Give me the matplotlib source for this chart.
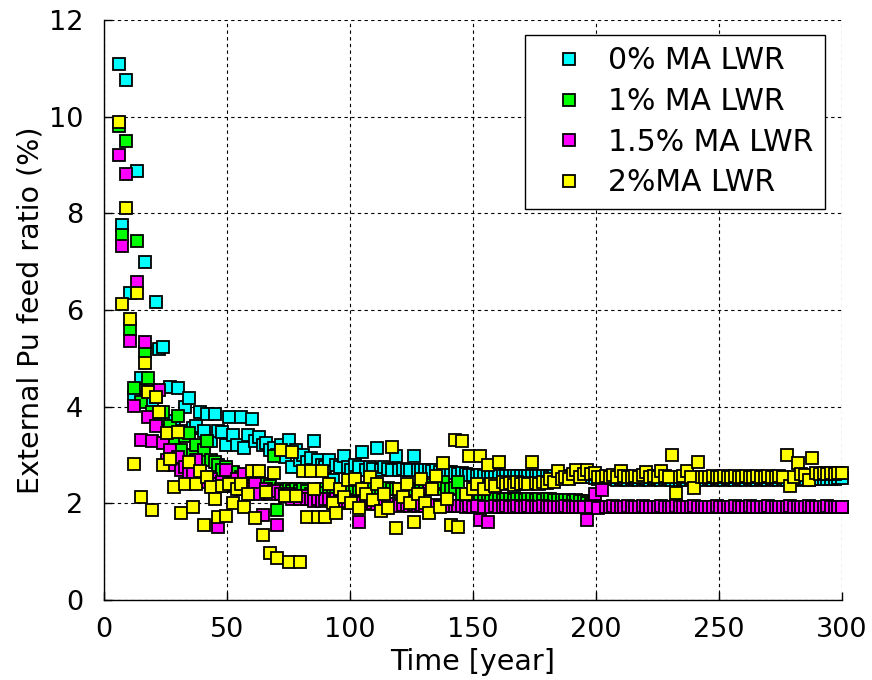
import numpy as np
import matplotlib
matplotlib.use("Agg")
import matplotlib.pyplot as plt

# time grid (years)
time = np.arange(6, 301, 1.5)

labels = ["0% MA LWR", "1% MA LWR", "1.5% MA LWR", "2%MA LWR"]
colors = ["#00FFFF", "#00FF00", "#FF00FF", "#FFFF00"]

ma0 = [
    11.1, 7.75, 10.75, 6.35, 4.2, 8.88, 4.6, 7.0, 4.3, 4.1,
    6.17, 5.2, 5.24, 3.7, 4.41, 3.6, 4.38, 3.5, 4.0, 4.17,
    3.55, 3.6, 3.9, 3.49, 3.85, 3.3, 3.85, 3.49, 3.48, 3.2,
    3.79, 3.41, 3.2, 3.78, 3.14, 3.41, 3.74, 3.3, 3.38, 3.2,
    3.24, 3.1, 3.15, 3.0, 3.2, 2.95, 3.31, 2.76, 3.1, 2.9,
    3.0, 2.85, 2.93, 3.28, 2.9, 2.8, 2.75, 2.9, 2.48, 2.8,
    2.75, 2.97, 2.75, 2.7, 2.8, 2.75, 3.07, 2.7, 2.75, 2.72,
    3.14, 2.7, 2.75, 2.72, 2.7, 2.97, 2.7, 2.72, 2.7, 2.7,
    2.97, 2.68, 2.7, 2.68, 2.7, 2.66, 2.68, 2.65, 2.66, 2.65,
    2.64, 2.62, 2.6, 2.62, 2.6, 2.58, 2.58, 2.57, 2.58, 2.57,
    2.57, 2.57, 2.58, 2.57, 2.57, 2.56, 2.57, 2.57, 2.56, 2.57,
    2.56, 2.57, 2.56, 2.56, 2.57, 2.56, 2.56, 2.55, 2.56, 2.56,
    2.55, 2.56, 2.55, 2.55, 2.56, 2.55, 2.54, 2.55, 2.54, 2.52,
    2.5, 2.5, 2.51, 2.5, 2.5, 2.49, 2.5, 2.5, 2.49, 2.5,
    2.5, 2.49, 2.5, 2.5, 2.49, 2.5, 2.5, 2.49, 2.5, 2.5,
    2.49, 2.48, 2.49, 2.5, 2.49, 2.5, 2.49, 2.5, 2.5, 2.49,
    2.5, 2.49, 2.5, 2.5, 2.49, 2.5, 2.5, 2.49, 2.5, 2.5,
    2.49, 2.5, 2.5, 2.49, 2.5, 2.5, 2.49, 2.5, 2.5, 2.49,
    2.5, 2.49, 2.5, 2.5, 2.49, 2.5, 2.5, 2.49, 2.5, 2.5,
    2.5, 2.51, 2.5, 2.51, 2.5, 2.52, 2.52,
]

ma1 = [
    9.8, 7.55, 9.5, 5.6, 4.38, 7.43, 4.1, 5.14, 4.59, 3.9,
    4.2, 3.7, 3.9, 3.5, 3.6, 3.3, 3.81, 3.1, 3.4, 3.46,
    3.0, 3.2, 2.9, 3.1, 3.28, 2.9, 2.85, 2.8, 2.7, 2.75,
    2.6, 2.65, 2.5, 2.55, 2.45, 2.5, 2.4, 2.45, 2.35, 2.4,
    2.3, 2.35, 2.97, 1.86, 2.3, 2.25, 2.3, 2.25, 2.3, 2.25,
    2.3, 2.25, 2.2, 2.28, 2.25, 2.3, 2.22, 2.3, 2.25, 2.28,
    2.3, 2.25, 2.3, 2.28, 2.32, 2.3, 2.28, 2.32, 2.3, 2.3,
    2.32, 2.3, 2.3, 2.32, 2.3, 2.3, 2.28, 2.3, 2.3, 2.28,
    2.3, 2.28, 2.3, 2.35, 2.3, 2.38, 2.3, 2.4, 2.45, 2.3,
    2.3, 2.32, 2.45, 2.2, 2.1, 2.08, 2.08, 2.07, 2.08, 2.08,
    2.08, 2.07, 2.08, 2.08, 2.07, 2.08, 2.08, 2.07, 2.08, 2.08,
    2.07, 2.08, 2.08, 2.07, 2.08, 2.07, 2.08, 2.08, 2.07, 2.06,
    2.07, 2.06, 2.06, 2.05, 2.06, 2.05, 2.04, 2.0, 1.96, 1.94,
    1.93, 1.93, 1.93, 1.93, 1.93, 1.93, 1.93, 1.93, 1.93, 1.93,
    1.93, 1.93, 1.93, 1.93, 1.93, 1.93, 1.93, 1.93, 1.93, 1.93,
    1.93, 1.93, 1.93, 1.93, 1.93, 1.93, 1.93, 1.93, 1.93, 1.93,
    1.93, 1.93, 1.93, 1.93, 1.93, 1.93, 1.93, 1.93, 1.93, 1.93,
    1.93, 1.93, 1.93, 1.93, 1.93, 1.93, 1.93, 1.93, 1.93, 1.93,
    1.93, 1.93, 1.93, 1.93, 1.93, 1.93, 1.93, 1.93, 1.93, 1.93,
    1.93, 1.93, 1.93, 1.93, 1.93, 1.93, 1.93,
]

ma15 = [
    9.2, 7.33, 8.81, 5.36, 4.01, 6.58, 3.31, 5.34, 3.79, 3.28,
    3.6, 4.34, 3.25, 2.9, 3.1, 2.8, 2.95, 2.7, 2.75, 2.6,
    2.65, 2.9, 2.5, 2.55, 2.45, 2.5, 2.4, 1.52, 2.45, 2.69,
    2.35, 2.4, 2.5, 2.3, 2.6, 2.35, 2.3, 2.4, 2.2, 1.76,
    2.3, 2.2, 2.25, 1.55, 2.2, 2.15, 2.2, 2.1, 2.15, 2.1,
    2.15, 2.1, 2.1, 2.05, 2.1, 2.05, 2.1, 2.08, 2.05, 2.1,
    2.05, 2.0, 2.05, 2.0, 2.02, 1.62, 2.0, 2.02, 1.98, 2.0,
    1.98, 2.0, 1.97, 1.98, 1.96, 1.98, 1.95, 1.97, 1.96, 1.95,
    1.96, 1.95, 1.97, 1.95, 2.31, 1.95, 1.96, 1.94, 1.95, 1.94,
    1.95, 1.94, 1.95, 1.94, 1.93, 1.94, 1.93, 1.94, 1.66, 1.93,
    1.62, 1.93, 1.94, 1.93, 1.93, 1.94, 1.93, 1.93, 1.94, 1.93,
    1.93, 1.94, 1.93, 1.93, 1.93, 1.94, 1.93, 1.93, 1.93, 1.93,
    1.93, 1.94, 1.93, 1.93, 1.93, 1.93, 1.93, 1.66, 1.93, 2.2,
    1.9, 2.28, 1.93, 1.93, 1.94, 1.93, 1.93, 1.93, 1.94, 1.93,
    1.93, 1.93, 1.94, 1.93, 1.93, 1.93, 1.93, 1.94, 1.93, 1.93,
    1.93, 1.94, 1.93, 1.93, 1.93, 1.93, 1.94, 1.93, 1.93, 1.93,
    1.93, 1.93, 1.94, 1.93, 1.93, 1.93, 1.93, 1.94, 1.93, 1.93,
    1.93, 1.94, 1.93, 1.93, 1.93, 1.93, 1.94, 1.93, 1.93, 1.93,
    1.93, 1.93, 1.94, 1.93, 1.93, 1.93, 1.93, 1.94, 1.93, 1.93,
    1.93, 1.93, 1.94, 1.93, 1.93, 1.93, 1.93,
]

ma2 = [
    9.9, 6.12, 8.11, 5.81, 2.81, 6.36, 2.14, 4.9, 4.31, 1.86,
    4.19, 3.88, 2.79, 3.45, 2.91, 2.33, 3.48, 1.79, 2.4, 2.86,
    1.93, 2.41, 2.66, 1.55, 2.54, 2.33, 2.1, 1.72, 2.36, 1.74,
    2.41, 2.0, 2.3, 2.41, 1.93, 2.2, 2.66, 1.69, 2.66, 1.34,
    2.24, 0.97, 2.63, 0.86, 3.1, 2.15, 0.79, 3.07, 2.15, 0.79,
    2.66, 1.72, 2.66, 2.3, 1.72, 2.66, 1.72, 2.4, 2.0, 1.8,
    2.3, 2.14, 2.48, 2.0, 2.5, 1.9, 2.3, 2.2, 2.55, 2.07,
    2.41, 1.85, 2.2, 1.9, 3.17, 1.48, 2.3, 2.14, 2.4, 2.0,
    1.62, 2.2, 2.5, 2.0, 1.79, 2.3, 2.57, 1.93, 2.83, 2.08,
    1.55, 3.32, 1.52, 3.28, 2.2, 2.97, 2.3, 2.4, 2.97, 2.3,
    2.79, 2.4, 2.35, 2.86, 2.45, 2.4, 2.42, 2.38, 2.45, 2.4,
    2.42, 2.4, 2.86, 2.42, 2.4, 2.45, 2.42, 2.5, 2.45, 2.66,
    2.5, 2.55, 2.5, 2.6, 2.68, 2.55, 2.6, 2.68, 2.6, 2.62,
    2.55, 2.55, 2.56, 2.55, 2.58, 2.55, 2.66, 2.56, 2.55, 2.55,
    2.56, 2.55, 2.58, 2.64, 2.55, 2.56, 2.55, 2.66, 2.56, 2.55,
    3.0, 2.21, 2.55, 2.56, 2.66, 2.55, 2.31, 2.86, 2.55, 2.55,
    2.55, 2.56, 2.55, 2.55, 2.56, 2.55, 2.55, 2.56, 2.55, 2.55,
    2.56, 2.55, 2.55, 2.56, 2.55, 2.55, 2.56, 2.55, 2.55, 2.56,
    2.55, 3.0, 2.36, 2.55, 2.83, 2.6, 2.58, 2.48, 2.93, 2.62,
    2.6, 2.62, 2.6, 2.62, 2.6, 2.62, 2.62,
]

series = [ma0, ma1, ma15, ma2]

fig = plt.figure(figsize=(8.72, 6.8), dpi=100)
ax = fig.add_axes([104 / 872, 80 / 680, 738 / 872, 580 / 680])

for vals, col, lab in zip(series, colors, labels):
    ax.plot(time, vals, linestyle="none", marker="s", markersize=8.6,
            markerfacecolor=col, markeredgecolor="k", markeredgewidth=1.3,
            clip_on=False, zorder=3, label=lab)

ax.set_xlim(0, 300)
ax.set_ylim(0, 12)
ax.set_xticks(np.arange(0, 301, 50))
ax.set_yticks(np.arange(0, 13, 2))
ax.set_axisbelow(True)
ax.grid(True, color="k", linestyle=(0, (3, 3)), linewidth=0.8)
for s in ["top", "right"]:
    ax.spines[s].set_visible(False)
for s in ["left", "bottom"]:
    ax.spines[s].set_linewidth(1.0)
ax.tick_params(axis="both", direction="in", length=6, width=1, labelsize=19.5,
               top=False, right=False)
ax.tick_params(axis="x", pad=12)
ax.tick_params(axis="y", pad=15)
ax.set_xlabel("Time [year]", fontsize=20.5, labelpad=4)
ax.set_ylabel("External Pu feed ratio (%)", fontsize=20.5, labelpad=3)

leg = ax.legend(loc="upper right", bbox_to_anchor=(0.977, 0.974),
                frameon=True, fancybox=False, edgecolor="k", framealpha=1,
                fontsize=21.5, borderpad=0.38, labelspacing=0.39,
                handlelength=2.2, handletextpad=0.22, borderaxespad=0,
                numpoints=1)
leg.get_frame().set_linewidth(1.0)

fig.savefig("out.png", dpi=100)
